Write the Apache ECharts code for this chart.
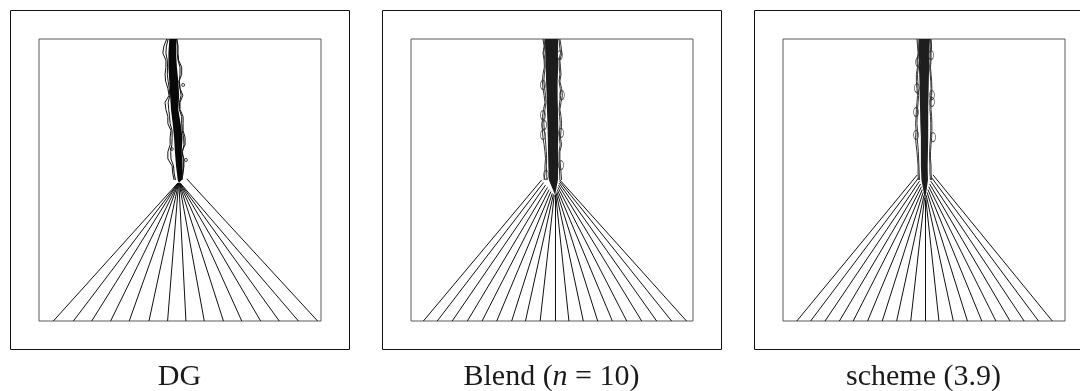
<!DOCTYPE html>
<html>
<head>
<meta charset="utf-8">
<script src="https://cdn.jsdelivr.net/npm/echarts@6/dist/echarts.min.js"></script>
<style>
  html, body { margin: 0; padding: 0; background: #fff; }
  #chart { width: 1080px; height: 391px; }
</style>
</head>
<body>
<div id="chart"></div>
<script>
// Panel captions (rich tag {i|..} marks italic math)
const captions = ['DG', 'Blend ({i|n} = 10)', 'scheme (3.9)'];

// Heights (domain units, 1 = top wall) where the dark core of the shear band is sampled
const coreY = [1.00, 0.95, 0.90, 0.85, 0.80, 0.75, 0.70, 0.65, 0.60, 0.55, 0.50];
// Finer heights for the ragged contours of the band
const edgeY = [1.000, 0.975, 0.950, 0.925, 0.900, 0.875, 0.850, 0.825, 0.800, 0.775, 0.750,
               0.725, 0.700, 0.675, 0.650, 0.625, 0.600, 0.575, 0.550, 0.525, 0.500];

// ---- DG ----
const dgCoreLeft  = [0.462, 0.459, 0.459, 0.462, 0.465, 0.468, 0.474, 0.479, 0.482, 0.486, 0.492];
const dgCoreRight = [0.486, 0.486, 0.489, 0.494, 0.497, 0.494, 0.502, 0.509, 0.506, 0.509, 0.506];
const dgApex = [0.496, 0.489];
const dgEdgeLeft  = [0.453, 0.443, 0.439, 0.450, 0.450, 0.447, 0.449, 0.457, 0.461, 0.447, 0.450,
                     0.457, 0.457, 0.468, 0.465, 0.465, 0.457, 0.457, 0.472, 0.474, 0.479];
const dgEdgeRight = [0.489, 0.493, 0.493, 0.495, 0.506, 0.506, 0.496, 0.500, 0.510, 0.500, 0.500,
                     0.511, 0.511, 0.511, 0.518, 0.518, 0.506, 0.514, 0.514, 0.511, 0.507];
const dgMidLeft   = [0.458, 0.452, 0.450, 0.455, 0.456, 0.455, 0.458, 0.462, 0.464, 0.458, 0.460,
                     0.463, 0.465, 0.472, 0.472, 0.471, 0.467, 0.468, 0.477, 0.479, 0.484];
const dgMidRight  = [0.488, 0.490, 0.490, 0.493, 0.500, 0.500, 0.498, 0.500, 0.504, 0.498, 0.498,
                     0.506, 0.506, 0.508, 0.513, 0.514, 0.509, 0.511, 0.512, 0.509, 0.506];
const dgSpecks = [[0.511, 0.837], [0.521, 0.571], [0.471, 0.610]];
const dgFanStartX = [0.492, 0.493, 0.493, 0.494, 0.494, 0.495, 0.495, 0.496, 0.497, 0.497, 0.498, 0.499, 0.500, 0.501, 0.524];
const dgFanStartY = [0.489, 0.489, 0.489, 0.489, 0.489, 0.489, 0.489, 0.489, 0.489, 0.489, 0.489, 0.489, 0.489, 0.489, 0.504];
const dgFanEndX   = [0.051, 0.122, 0.187, 0.254, 0.320, 0.390, 0.456, 0.521, 0.586, 0.654, 0.719, 0.786, 0.852, 0.920, 0.988];

// ---- Blend (n = 10) ----
const blendCoreLeft  = [0.475, 0.476, 0.478, 0.479, 0.481, 0.482, 0.484, 0.485, 0.486, 0.487, 0.489];
const blendCoreRight = [0.522, 0.521, 0.522, 0.520, 0.520, 0.521, 0.522, 0.522, 0.521, 0.522, 0.521];
const blendApex = [0.511, 0.447];
const blendEdgeLeft  = [0.468, 0.472, 0.468, 0.472, 0.473, 0.468, 0.466, 0.468, 0.472, 0.475, 0.470,
                        0.466, 0.465, 0.466, 0.468, 0.472, 0.475, 0.477, 0.475, 0.475, 0.472];
const blendEdgeRight = [0.528, 0.532, 0.535, 0.528, 0.530, 0.532, 0.528, 0.534, 0.537, 0.532, 0.528,
                        0.532, 0.534, 0.532, 0.530, 0.534, 0.528, 0.528, 0.530, 0.532, 0.534];
const blendMidLeft   = [0.472, 0.474, 0.471, 0.475, 0.476, 0.473, 0.471, 0.474, 0.477, 0.479, 0.475,
                        0.472, 0.471, 0.473, 0.476, 0.478, 0.480, 0.481, 0.480, 0.481, 0.482];
const blendMidRight  = [0.525, 0.527, 0.530, 0.525, 0.526, 0.528, 0.525, 0.529, 0.531, 0.527, 0.525,
                        0.527, 0.529, 0.527, 0.526, 0.529, 0.525, 0.525, 0.526, 0.527, 0.528];
const blendBubbles = [[0.468, 0.837], [0.535, 0.801], [0.468, 0.730], [0.472, 0.695], [0.468, 0.660],
                      [0.532, 0.667], [0.528, 0.943], [0.532, 0.553], [0.479, 0.518]];
const blendFanStartX = [0.463, 0.470, 0.477, 0.484, 0.490, 0.496, 0.501, 0.505, 0.508, 0.511,
                        0.513, 0.515, 0.517, 0.519, 0.521, 0.523, 0.525, 0.527, 0.528];
const blendFanStartY = [0.500, 0.491, 0.482, 0.474, 0.466, 0.459, 0.453, 0.449, 0.447, 0.447,
                        0.449, 0.453, 0.459, 0.466, 0.474, 0.482, 0.489, 0.495, 0.500];
const blendFanEndX   = [0.044, 0.093, 0.146, 0.200, 0.252, 0.304, 0.357, 0.406, 0.458, 0.511,
                        0.560, 0.611, 0.662, 0.714, 0.765, 0.818, 0.871, 0.924, 0.977];

// ---- scheme (3.9) ----
const schemeCoreLeft  = [0.482, 0.482, 0.482, 0.484, 0.485, 0.486, 0.487, 0.489, 0.489, 0.489, 0.491];
const schemeCoreRight = [0.521, 0.519, 0.518, 0.517, 0.516, 0.515, 0.515, 0.515, 0.514, 0.513, 0.514];
const schemeApex = [0.504, 0.429];
const schemeEdgeLeft  = [0.475, 0.477, 0.479, 0.475, 0.477, 0.473, 0.473, 0.475, 0.477, 0.475, 0.473,
                         0.472, 0.470, 0.472, 0.470, 0.472, 0.475, 0.477, 0.479, 0.479, 0.480];
const schemeEdgeRight = [0.525, 0.527, 0.525, 0.525, 0.523, 0.525, 0.527, 0.528, 0.527, 0.525, 0.525,
                         0.527, 0.528, 0.528, 0.527, 0.525, 0.523, 0.523, 0.525, 0.525, 0.527];
const schemeMidLeft   = [0.479, 0.480, 0.481, 0.478, 0.480, 0.477, 0.478, 0.479, 0.481, 0.479, 0.477,
                         0.476, 0.475, 0.477, 0.476, 0.478, 0.480, 0.481, 0.482, 0.483, 0.484];
const schemeMidRight  = [0.523, 0.524, 0.522, 0.522, 0.520, 0.522, 0.524, 0.525, 0.524, 0.522, 0.521,
                         0.523, 0.524, 0.524, 0.523, 0.521, 0.520, 0.520, 0.521, 0.521, 0.523];
const schemeBubbles = [[0.475, 0.826], [0.528, 0.801], [0.472, 0.741], [0.528, 0.777], [0.472, 0.660],
                       [0.532, 0.652], [0.479, 0.918], [0.525, 0.943]];
const schemeFanStartX = [0.476, 0.480, 0.484, 0.488, 0.491, 0.494, 0.497, 0.500, 0.502, 0.504,
                         0.506, 0.508, 0.511, 0.514, 0.517, 0.520, 0.524, 0.528, 0.532];
const schemeFanStartY = [0.518, 0.507, 0.496, 0.486, 0.476, 0.466, 0.456, 0.446, 0.437, 0.429,
                         0.437, 0.446, 0.456, 0.466, 0.476, 0.486, 0.496, 0.507, 0.518];
const schemeFanEndX   = [0.049, 0.098, 0.149, 0.200, 0.249, 0.300, 0.352, 0.403, 0.453, 0.503,
                         0.553, 0.604, 0.654, 0.705, 0.755, 0.805, 0.855, 0.906, 0.955];

const panels = [
  { coreL: dgCoreLeft, coreR: dgCoreRight, apex: dgApex,
    contours: [dgEdgeLeft, dgEdgeRight, dgMidLeft, dgMidRight],
    dots: dgSpecks, fsx: dgFanStartX, fsy: dgFanStartY, fex: dgFanEndX,
    coreColor: '#080808', edgeColor: '#111', dotSize: 3 },
  { coreL: blendCoreLeft, coreR: blendCoreRight, apex: blendApex,
    contours: [blendEdgeLeft, blendEdgeRight, blendMidLeft, blendMidRight],
    dots: blendBubbles, fsx: blendFanStartX, fsy: blendFanStartY, fex: blendFanEndX,
    coreColor: '#1c1c1c', edgeColor: '#333', dotSize: [5, 9] },
  { coreL: schemeCoreLeft, coreR: schemeCoreRight, apex: schemeApex,
    contours: [schemeEdgeLeft, schemeEdgeRight, schemeMidLeft, schemeMidRight],
    dots: schemeBubbles, fsx: schemeFanStartX, fsy: schemeFanStartY, fex: schemeFanEndX,
    coreColor: '#1e1e1e', edgeColor: '#333', dotSize: [5, 9] }
];

// layout of the three panels
const PANEL_STEP = 372, OUTER_LEFT = 10, OUTER_SIZE = 339, INNER_OFF = 29, INNER_SIZE = 282;

const grids = [], xAxes = [], yAxes = [], series = [], graphics = [];

panels.forEach((p, i) => {
  const ox = OUTER_LEFT + i * PANEL_STEP;
  grids.push({
    left: ox + INNER_OFF, top: OUTER_LEFT + INNER_OFF, width: INNER_SIZE, height: INNER_SIZE,
    show: true, borderColor: '#5a5a5a', borderWidth: 1, backgroundColor: 'transparent'
  });
  xAxes.push({ type: 'value', gridIndex: i, min: 0, max: 1, show: false });
  yAxes.push({ type: 'value', gridIndex: i, min: 0, max: 1, show: false });

  // dark core of the shear band, closed down to the fan apex
  series.push({
    type: 'custom', xAxisIndex: i, yAxisIndex: i, silent: true, animation: false,
    data: [[0, 0]],
    renderItem: (params, api) => {
      const pts = [];
      p.coreL.forEach((x, k) => pts.push(api.coord([x, coreY[k]])));
      pts.push(api.coord(p.apex));
      for (let k = p.coreR.length - 1; k >= 0; k--) pts.push(api.coord([p.coreR[k], coreY[k]]));
      return { type: 'polygon', shape: { points: pts }, style: { fill: p.coreColor } };
    }
  });

  // ragged contours on both flanks of the band
  p.contours.forEach(edge => {
    series.push({
      type: 'line', xAxisIndex: i, yAxisIndex: i, silent: true, animation: false,
      showSymbol: false, symbol: 'none',
      lineStyle: { color: p.edgeColor, width: 1 },
      data: edge.map((x, k) => [x, edgeY[k]])
    });
  });

  // isolated small closed contours next to the band
  series.push({
    type: 'scatter', xAxisIndex: i, yAxisIndex: i, silent: true, animation: false,
    symbol: 'circle', symbolSize: p.dotSize,
    itemStyle: { color: 'transparent', borderColor: p.edgeColor, borderWidth: 1 },
    data: p.dots
  });

  // rarefaction fan: contour lines from the band base to the bottom wall
  series.push({
    type: 'lines', coordinateSystem: 'cartesian2d', xAxisIndex: i, yAxisIndex: i,
    silent: true, animation: false, polyline: false,
    lineStyle: { color: '#111', width: 1, opacity: 1, curveness: 0 },
    data: p.fex.map((ex, k) => ({ coords: [[p.fsx[k], p.fsy[k]], [ex, 0]] }))
  });

  graphics.push({
    type: 'rect', silent: true,
    shape: { x: ox + 0.5, y: OUTER_LEFT + 0.5, width: OUTER_SIZE, height: OUTER_SIZE },
    style: { fill: 'none', stroke: '#111', lineWidth: 1 }
  });
  graphics.push({
    type: 'text', silent: true,
    x: ox + OUTER_SIZE / 2, y: 377,
    style: {
      text: captions[i], align: 'center', verticalAlign: 'middle',
      font: '30px "Liberation Serif", serif', fill: '#1a1a1a',
      rich: { i: { fontStyle: 'italic', fontSize: 30, fontFamily: 'Liberation Serif', fill: '#1a1a1a' } }
    }
  });
});

const chart = echarts.init(document.getElementById('chart'), null, { renderer: 'canvas' });
chart.setOption({
  animation: false,
  backgroundColor: '#fff',
  grid: grids,
  xAxis: xAxes,
  yAxis: yAxes,
  series: series,
  graphic: graphics
});
</script>
</body>
</html>
